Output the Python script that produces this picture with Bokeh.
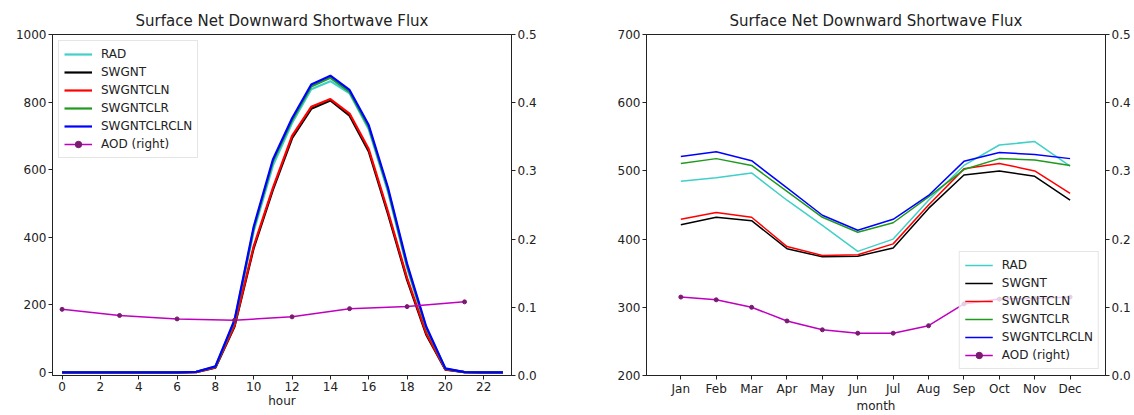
from bokeh.plotting import figure
from bokeh.models import Range1d, LinearAxis, NumeralTickFormatter
from bokeh.layouts import row
from bokeh.embed import file_html
from bokeh.resources import INLINE

# ---------------- data ----------------
hours = list(range(24))
rad_h = [0, 0, 0, 0, 0, 0, 0, 2, 16, 148, 418, 612, 738, 838, 862, 826, 720, 536, 310, 128, 10, 1, 0, 0]
swgnt_h = [0, 0, 0, 0, 0, 0, 0, 1, 14, 136, 368, 540, 693, 780, 805, 760, 654, 470, 274, 112, 8, 1, 0, 0]
swgntcln_h = [0, 0, 0, 0, 0, 0, 0, 1, 15, 139, 374, 546, 700, 786, 809, 766, 661, 477, 280, 116, 9, 1, 0, 0]
swgntclr_h = [0, 0, 0, 0, 0, 0, 0, 2, 17, 152, 426, 624, 746, 846, 872, 830, 726, 542, 316, 132, 11, 1, 0, 0]
swgntclrcln_h = [0, 0, 0, 0, 0, 0, 0, 2, 18, 156, 432, 630, 752, 852, 878, 836, 732, 548, 322, 136, 12, 1, 0, 0]
aod_hours = [0, 3, 6, 9, 12, 15, 18, 21]
aod_h = [0.097, 0.088, 0.083, 0.081, 0.086, 0.098, 0.101, 0.108]

months = ["Jan", "Feb", "Mar", "Apr", "May", "Jun", "Jul", "Aug", "Sep", "Oct", "Nov", "Dec"]
rad_m = [485, 490, 497, 457, 420, 382, 400, 457, 508, 538, 543, 507]
swgnt_m = [421, 432, 427, 386, 374, 375, 387, 445, 494, 500, 492, 457]
swgntcln_m = [429, 439, 432, 389, 376, 377, 393, 450, 503, 511, 500, 467]
swgntclr_m = [511, 518, 508, 470, 432, 410, 424, 462, 502, 518, 516, 508]
swgntclrcln_m = [521, 528, 515, 475, 435, 413, 429, 464, 514, 527, 524, 518]
aod_m = [0.115, 0.111, 0.100, 0.080, 0.067, 0.062, 0.062, 0.073, 0.105, 0.112, 0.113, 0.115]

series_names = ["RAD", "SWGNT", "SWGNTCLN", "SWGNTCLR", "SWGNTCLRCLN"]
colors = ["#40d0c8", "black", "red", "#1f9a1f", "blue"]
aod_color = "#bf00bf"
aod_marker = "#7a1a70"
title_text = "Surface Net Downward Shortwave Flux"

FONT = "DejaVu Sans"
TXT = "#222222"


def style(p):
    p.grid.visible = False
    p.outline_line_color = TXT
    p.outline_line_width = 1
    p.title.text_font = FONT
    p.title.text_font_size = "15px"
    p.title.text_font_style = "normal"
    p.title.text_color = TXT
    p.title.align = "center"
    for ax in p.axis:
        ax.major_label_text_font = FONT
        ax.major_label_text_font_size = "12px"
        ax.major_label_text_color = TXT
        ax.axis_label_text_font = FONT
        ax.axis_label_text_font_size = "12px"
        ax.axis_label_text_font_style = "normal"
        ax.axis_label_text_color = TXT
        ax.axis_line_color = TXT
        ax.major_tick_line_color = TXT
        ax.major_tick_out = 4
        ax.major_tick_in = 0
        ax.minor_tick_line_color = None
        ax.major_label_standoff = 2
        ax.axis_label_standoff = 0


def style_legend(p, loc):
    lg = p.legend[0]
    lg.location = loc
    lg.label_text_font = FONT
    lg.label_text_font_size = "12px"
    lg.label_text_color = TXT
    lg.border_line_color = "#cccccc"
    lg.background_fill_alpha = 0.8
    lg.glyph_width = 28
    lg.glyph_height = 16
    lg.label_height = 16
    lg.label_standoff = 9
    lg.spacing = 2
    lg.padding = 5
    lg.margin = 6


# ---------------- left: hourly ----------------
p1 = figure(width=580, height=415, title=title_text,
            x_range=Range1d(-0.5, 23.45), y_range=Range1d(-9, 1000),
            output_backend="svg", toolbar_location=None,
            min_border_left=52, min_border_right=69, min_border_top=34, min_border_bottom=34)
p1.extra_y_ranges = {"aod": Range1d(0, 0.5)}
ax1r = LinearAxis(y_range_name="aod", formatter=NumeralTickFormatter(format="0.0"))
ax1r.ticker = [0, 0.1, 0.2, 0.3, 0.4, 0.5]
p1.add_layout(ax1r, "right")
p1.xaxis.ticker = list(range(0, 23, 2))
p1.yaxis[0].ticker = [0, 200, 400, 600, 800, 1000]
p1.xaxis.axis_label = "hour"

for name, col, ys in zip(series_names, colors, [rad_h, swgnt_h, swgntcln_h, swgntclr_h, swgntclrcln_h]):
    p1.line(hours, ys, line_color=col, line_width=2.2, legend_label=name)
p1.line(aod_hours, aod_h, line_color=aod_color, line_width=1.5, y_range_name="aod", legend_label="AOD (right)")
p1.scatter(aod_hours, aod_h, size=4, fill_color=aod_marker, line_color=aod_marker,
           y_range_name="aod", legend_label="AOD (right)")
style(p1)
style_legend(p1, "top_left")

# ---------------- right: monthly ----------------
mx = list(range(len(months)))
p2 = figure(width=554, height=415, title=title_text,
            x_range=Range1d(-0.97, 12.0), y_range=Range1d(200, 700),
            output_backend="svg", toolbar_location=None,
            min_border_left=66, min_border_right=29, min_border_top=34, min_border_bottom=34)
p2.extra_y_ranges = {"aod": Range1d(0, 0.5)}
ax2r = LinearAxis(y_range_name="aod", formatter=NumeralTickFormatter(format="0.0"))
ax2r.ticker = [0, 0.1, 0.2, 0.3, 0.4, 0.5]
p2.add_layout(ax2r, "right")
p2.xaxis.ticker = mx
p2.xaxis.major_label_overrides = {i: m for i, m in enumerate(months)}
p2.yaxis[0].ticker = [200, 300, 400, 500, 600, 700]
p2.xaxis.axis_label = "month"

for name, col, ys in zip(series_names, colors, [rad_m, swgnt_m, swgntcln_m, swgntclr_m, swgntclrcln_m]):
    p2.line(mx, ys, line_color=col, line_width=1.5, legend_label=name)
p2.line(mx, aod_m, line_color=aod_color, line_width=1.5, y_range_name="aod",
        legend_label="AOD (right)", level="overlay")
p2.scatter(mx, aod_m, size=4, fill_color=aod_marker, line_color=aod_marker,
           y_range_name="aod", legend_label="AOD (right)", level="overlay")
style(p2)
style_legend(p2, "bottom_right")

layout = row(p1, p2)
open("out.html", "w").write(file_html(layout, INLINE))
